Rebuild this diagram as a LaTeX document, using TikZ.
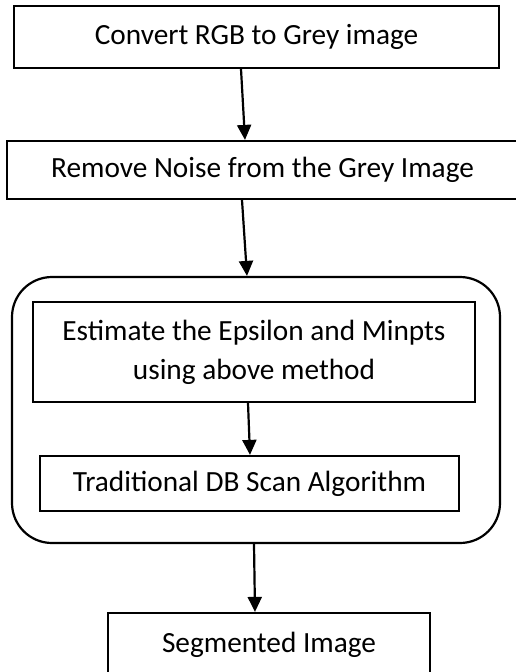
\documentclass[tikz,border=0pt]{standalone}
\usepackage{fontspec}
\setmainfont{Carlito}
\usetikzlibrary{arrows.meta,calc}
\begin{document}
\begin{tikzpicture}[x=1pt,y=-1pt,
  stepbox/.style={draw=black,line width=2.2pt,fill=white,align=center,
    font=\fontsize{29.3}{39}\selectfont,inner sep=0pt},
  flow/.style={line width=2.2pt,-{Triangle[width=14pt,length=15pt]}},
  groupbox/.style={draw=black,line width=2.2pt,rounded corners=40pt}]
  \useasboundingbox (0,0) rectangle (515,672);
  \node[stepbox,minimum width=485pt,minimum height=62pt] (b1) at (256.5,37) {Convert RGB to Grey image};
  \node[stepbox,minimum width=511pt,minimum height=58pt] (b2) at (262.5,170) {Remove Noise from the Grey Image};
  \node[groupbox,minimum width=488pt,minimum height=266pt,inner sep=0pt] (grp) at (256,410) {};
  \node[stepbox,minimum width=442pt,minimum height=100pt] (i1) at (254,352) {Estimate the Epsilon and Minpts\\using above method};
  \node[stepbox,minimum width=419pt,minimum height=55pt] (i2) at (249.5,483.5) {Traditional DB Scan Algorithm};
  \node[stepbox,minimum width=322pt,minimum height=63pt] (b4) at (269,644.5) {Segmented Image};
  \draw[flow] ([xshift=-15.5pt]b1.south) -- ([xshift=-17.5pt]b2.north);
  \draw[flow] ([xshift=-20.5pt]b2.south) -- ([xshift=-9pt]grp.north);
  \draw[flow] ([xshift=-6pt]i1.south) -- ([xshift=0.5pt]i2.north);
  \draw[flow] ([xshift=-2pt]grp.south) -- ([xshift=-14pt]b4.north);
\end{tikzpicture}
\end{document}
